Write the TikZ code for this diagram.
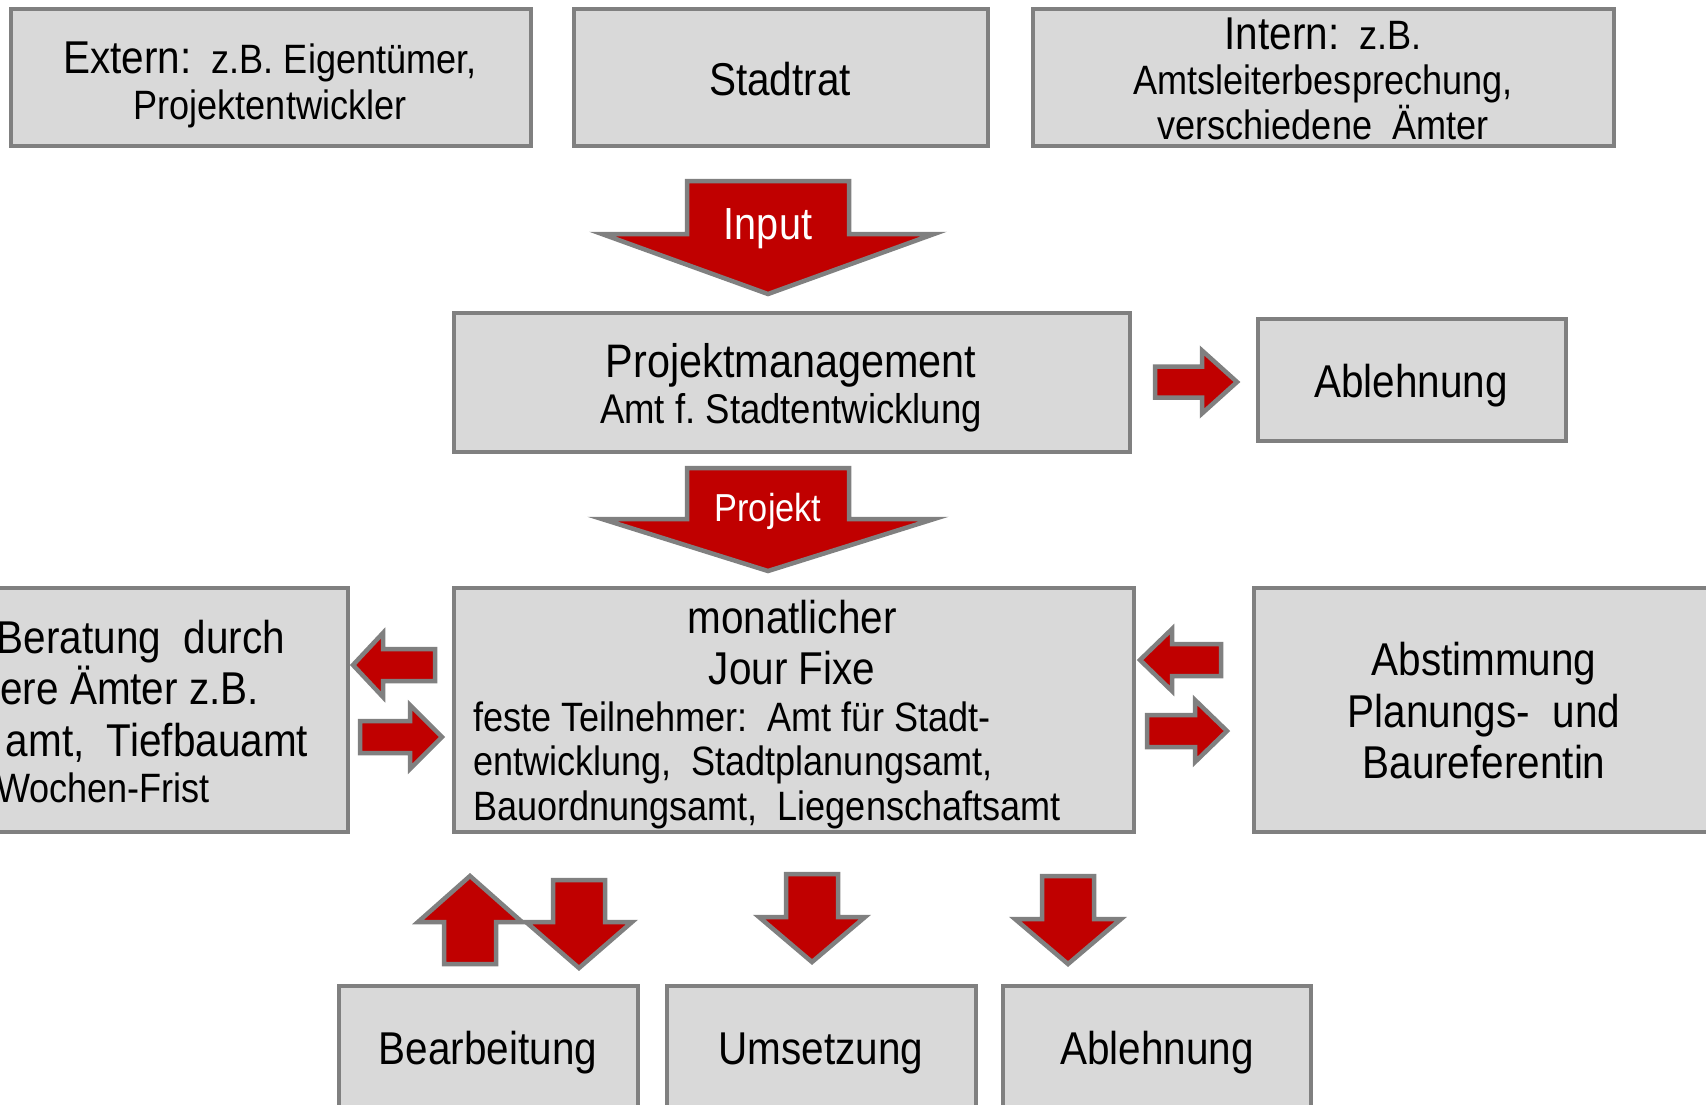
\documentclass[tikz,border=0pt]{standalone}
\usepackage{fontspec}
\setmainfont{Liberation Sans}[FakeStretch=0.88]
\definecolor{boxfill}{HTML}{D9D9D9}
\definecolor{boxline}{HTML}{808080}
\definecolor{arrred}{HTML}{C00000}
\newcommand\fsBig{\fontsize{46}{50}\selectfont}
\newcommand\fsMid{\fontsize{41}{46}\selectfont}
% horizontal block arrow: tail x, head-base x, tip x, centre y, shaft half, head half
\newcommand{\hblockarrow}[6]{%
  \draw[blockarrow] (#1,#4-#5) -- (#2,#4-#5) -- (#2,#4-#6) -- (#3,#4) -- (#2,#4+#6) -- (#2,#4+#5) -- (#1,#4+#5) -- cycle;}
% vertical block arrow: tail y, head-base y, tip y, centre x, shaft half, head half
\newcommand{\vblockarrow}[6]{%
  \draw[blockarrow] (#4-#5,#1) -- (#4+#5,#1) -- (#4+#5,#2) -- (#4+#6,#2) -- (#4,#3) -- (#4-#6,#2) -- (#4-#5,#2) -- cycle;}
\frenchspacing
\begin{document}
\begin{tikzpicture}[x=1pt,y=-1pt,
  box/.style={draw=boxline, fill=boxfill, line width=4.5pt, inner sep=0pt, outer sep=0pt, rectangle},
  blockarrow/.style={draw=boxline, fill=arrred, line width=4.5pt, line join=miter},
  lbl/.style={inner sep=0pt, outer sep=0pt, anchor=base, text=black},
  lblw/.style={lbl, text=white},
  ]
\fill[white] (0,0) rectangle (1706,1104);
\useasboundingbox (0,0) rectangle (1706,1104);

% boxes
\node[box, minimum width=520pt, minimum height=137pt] (extern) at (271,77.5) {};
\node[box, minimum width=414pt, minimum height=137pt] (stadtrat) at (781,77.5) {};
\node[box, minimum width=581pt, minimum height=137pt] (intern) at (1323.5,77.5) {};
\node[box, minimum width=676pt, minimum height=139pt] (pm) at (792,382.5) {};
\node[box, minimum width=308pt, minimum height=122pt] (abl1) at (1412,380) {};
\node[box, minimum width=680pt, minimum height=244pt] (jf) at (794,710) {};
\node[box, minimum width=368pt, minimum height=244pt] (berat) at (164,710) {};
\node[box, minimum width=476pt, minimum height=244pt] (abst) at (1492,710) {};
\node[box, minimum width=299pt, minimum height=144pt] (bearb) at (488.5,1058) {};
\node[box, minimum width=309pt, minimum height=144pt] (umset) at (821.5,1058) {};
\node[box, minimum width=308pt, minimum height=144pt] (abl2) at (1157,1058) {};

% block arrows
\vblockarrow{181}{234}{294}{768}{81}{166}
\vblockarrow{468}{519}{571}{768}{81}{166}
\hblockarrow{1155}{1202}{1237}{382}{15.5}{31.5}
\hblockarrow{435}{383}{353}{665}{16}{32}
\hblockarrow{360}{410}{442}{737}{16}{32}
\hblockarrow{1221}{1172}{1140}{660}{16}{31}
\hblockarrow{1147}{1195}{1227}{731}{16}{31}
\vblockarrow{964}{922}{876}{470}{26}{52}
\vblockarrow{880}{922}{968}{579}{26}{53}
\vblockarrow{874}{917}{962}{812}{26}{53}
\vblockarrow{876}{919}{964}{1068}{26}{53}

% texts
\node[lbl, font=\fsMid] (externA) at (270,73) {{\fsBig Extern:}\ \ z.B. Eigentümer,};
\node[lbl, font=\fsMid] (externB) at (270,119) {Projektentwickler};
\node[lbl, font=\fsBig] (stadtratT) at (780,95) {Stadtrat};
\node[lbl, font=\fsMid] (internA) at (1323,49) {{\fsBig Intern:}\ \ z.B.};
\node[lbl, font=\fsMid] (internB) at (1323,94) {Amtsleiterbesprechung,};
\node[lbl, font=\fsMid] (internC) at (1323,139) {verschiedene\ \ Ämter};
\node[lblw, font=\fontsize{45}{50}\selectfont] (inputT) at (768,239) {Input};
\node[lbl, font=\fontsize{47}{50}\selectfont] (pmA) at (791,377) {Projektmanagement};
\node[lbl, font=\fontsize{41.5}{46}\selectfont] (pmB) at (791,423) {Amt f. Stadtentwicklung};
\node[lbl, font=\fsBig] (abl1T) at (1411,397) {Ablehnung};
\node[lblw, font=\fontsize{39}{44}\selectfont] (projT) at (768,521) {Projekt};
\node[lbl, font=\fsBig] (jfA) at (792,633.5) {monatlicher};
\node[lbl, font=\fsBig] (jfB) at (792,684.5) {Jour Fixe};
\node[lbl, font=\fsMid, anchor=base west] (jfC) at (473,731.5) {feste Teilnehmer:\ \ Amt für Stadt-};
\node[lbl, font=\fsMid, anchor=base west] (jfD) at (473,775) {entwicklung,\ \ Stadtplanungsamt,};
\node[lbl, font=\fsMid, anchor=base west] (jfE) at (473,820) {Bauordnungsamt,\ \ Liegenschaftsamt};
\node[lbl, font=\fsBig, anchor=base east] (berA) at (285,653) {Beratung\ \ durch};
\node[lbl, font=\fsBig, anchor=base east] (berB) at (259,704) {ere Ämter z.B.};
\node[lbl, font=\fsBig, anchor=base east] (berC) at (308,756.5) {amt,\ \ Tiefbauamt};
\node[lbl, font=\fsMid, anchor=base east] (berD) at (210,802.5) {Wochen-Frist};
\node[lbl, font=\fsBig] (abA) at (1484,675.5) {Abstimmung};
\node[lbl, font=\fsBig] (abB) at (1484,727) {Planungs-\ \ und};
\node[lbl, font=\fsBig] (abC) at (1484,778) {Baureferentin};
\node[lbl, font=\fsBig] (bearbT) at (488,1064.5) {Bearbeitung};
\node[lbl, font=\fsBig] (umsetT) at (821,1064.5) {Umsetzung};
\node[lbl, font=\fsBig] (abl2T) at (1157,1064.5) {Ablehnung};
\end{tikzpicture}
\end{document}
